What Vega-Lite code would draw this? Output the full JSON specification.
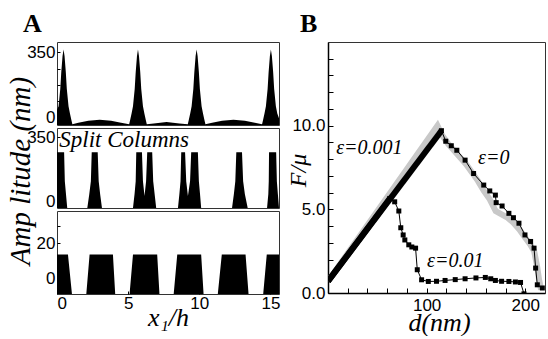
{
  "$schema": "https://vega.github.io/schema/vega-lite/v6.json",
  "background": "white",
  "padding": {"left": 5, "top": 10, "right": 0, "bottom": 0},
  "spacing": 4,
  "datasets": {
    "top": [
      {"x":0,"y":40},{"x":0.11,"y":60},{"x":0.23,"y":152},{"x":0.30,"y":242},{"x":0.39,"y":330},{"x":0.46,"y":365},{"x":0.53,"y":330},{"x":0.62,"y":242},{"x":0.69,"y":152},{"x":0.81,"y":60},{"x":0.91,"y":20},{"x":1.01,"y":-15},{"x":1.08,"y":-37},
      {"x":1.5,"y":-30},{"x":2.2,"y":-18},{"x":3.0,"y":-13},{"x":3.8,"y":-18},{"x":4.5,"y":-30},
      {"x":5.07,"y":-37},{"x":5.14,"y":-15},{"x":5.24,"y":20},{"x":5.34,"y":60},{"x":5.46,"y":152},{"x":5.53,"y":242},{"x":5.62,"y":330},{"x":5.69,"y":365},{"x":5.76,"y":330},{"x":5.85,"y":242},{"x":5.92,"y":152},{"x":6.04,"y":60},{"x":6.14,"y":20},{"x":6.24,"y":-15},{"x":6.31,"y":-37},
      {"x":6.8,"y":-33},{"x":7.7,"y":-25},{"x":8.6,"y":-33},
      {"x":9.19,"y":-37},{"x":9.26,"y":-15},{"x":9.36,"y":20},{"x":9.46,"y":60},{"x":9.58,"y":152},{"x":9.65,"y":242},{"x":9.74,"y":330},{"x":9.81,"y":365},{"x":9.88,"y":330},{"x":9.97,"y":242},{"x":10.04,"y":152},{"x":10.16,"y":60},{"x":10.26,"y":20},{"x":10.36,"y":-15},{"x":10.43,"y":-37},
      {"x":10.9,"y":-30},{"x":11.6,"y":-18},{"x":12.4,"y":-13},{"x":13.2,"y":-18},{"x":13.9,"y":-30},
      {"x":14.41,"y":-37},{"x":14.48,"y":-15},{"x":14.58,"y":20},{"x":14.68,"y":60},{"x":14.80,"y":152},{"x":14.87,"y":242},{"x":14.96,"y":330},{"x":15.03,"y":365},{"x":15.10,"y":330},{"x":15.19,"y":242},{"x":15.26,"y":152},{"x":15.38,"y":60},{"x":15.48,"y":20},{"x":15.6,"y":-5}
    ],
    "split": [
      {"x":0,"y":268},{"x":0.5,"y":268},{"x":0.55,"y":110},{"x":0.63,"y":40},{"x":0.72,"y":-36},
      {"x":2.13,"y":-36},{"x":2.27,"y":40},{"x":2.38,"y":110},{"x":2.44,"y":268},{"x":2.86,"y":268},{"x":2.93,"y":110},{"x":3.03,"y":40},{"x":3.16,"y":-36},
      {"x":5.34,"y":-36},{"x":5.45,"y":40},{"x":5.53,"y":110},{"x":5.57,"y":268},{"x":5.97,"y":268},{"x":6.04,"y":110},{"x":6.15,"y":30},{"x":6.26,"y":110},{"x":6.34,"y":268},{"x":6.69,"y":268},{"x":6.76,"y":110},{"x":6.86,"y":40},{"x":6.97,"y":-36},
      {"x":8.5,"y":-36},{"x":8.6,"y":40},{"x":8.68,"y":110},{"x":8.73,"y":268},{"x":9.0,"y":268},{"x":9.08,"y":110},{"x":9.2,"y":30},{"x":9.35,"y":110},{"x":9.43,"y":268},{"x":9.9,"y":268},{"x":9.97,"y":110},{"x":10.05,"y":40},{"x":10.13,"y":-36},
      {"x":12.3,"y":-36},{"x":12.43,"y":40},{"x":12.53,"y":110},{"x":12.6,"y":268},{"x":13.0,"y":268},{"x":13.08,"y":110},{"x":13.2,"y":40},{"x":13.4,"y":-36},
      {"x":14.76,"y":-36},{"x":14.85,"y":40},{"x":14.88,"y":110},{"x":14.9,"y":268},{"x":15.4,"y":268},{"x":15.45,"y":110},{"x":15.52,"y":40},{"x":15.6,"y":-36}
    ],
    "flat": [
      {"x":0,"y":13.5},{"x":0.77,"y":13.5},{"x":1.05,"y":-9.2},
      {"x":2.06,"y":-9.2},{"x":2.29,"y":13.5},{"x":3.93,"y":13.5},{"x":4.09,"y":-9.2},
      {"x":5.1,"y":-9.2},{"x":5.34,"y":13.5},{"x":7.04,"y":13.5},{"x":7.2,"y":-9.2},
      {"x":8.2,"y":-9.2},{"x":8.45,"y":13.5},{"x":10.13,"y":13.5},{"x":10.3,"y":-9.2},
      {"x":11.3,"y":-9.2},{"x":11.58,"y":13.5},{"x":13.25,"y":13.5},{"x":13.46,"y":-9.2},
      {"x":14.49,"y":-9.2},{"x":14.74,"y":13.5},{"x":15.6,"y":13.5}
    ],
    "force": [
      {"s":"e0","part":"g","d":0,"F":0.7},{"s":"e0","part":"g","d":111,"F":10.0},{"s":"e0","part":"g","d":116,"F":9.4},{"s":"e0","part":"g","d":122,"F":8.9},{"s":"e0","part":"g","d":128,"F":8.5},{"s":"e0","part":"g","d":134,"F":8.1},{"s":"e0","part":"g","d":140,"F":7.7},{"s":"e0","part":"g","d":146,"F":7.2},{"s":"e0","part":"g","d":152,"F":6.7},{"s":"e0","part":"g","d":158,"F":6.1},{"s":"e0","part":"g","d":164,"F":5.6},{"s":"e0","part":"g","d":170,"F":4.9},{"s":"e0","part":"g","d":176,"F":4.7},{"s":"e0","part":"g","d":182,"F":4.5},{"s":"e0","part":"g","d":188,"F":4.2},{"s":"e0","part":"g","d":194,"F":3.8},{"s":"e0","part":"g","d":200,"F":3.3},{"s":"e0","part":"g","d":205,"F":2.9},{"s":"e0","part":"g","d":209,"F":2.5},{"s":"e0","part":"g","d":212,"F":1.6},{"s":"e0","part":"g","d":214,"F":0.8},{"s":"e0","part":"g","d":216,"F":0.2},
      {"s":"e001","part":"rise","d":0,"F":0.7},{"s":"e001","part":"rise","d":115,"F":9.7},
      {"s":"e001","part":"fall","d":115,"F":9.7},{"s":"e001","part":"fall","d":119.4,"F":9.07},{"s":"e001","part":"fall","d":125,"F":8.8},{"s":"e001","part":"fall","d":130.6,"F":8.53},{"s":"e001","part":"fall","d":139,"F":7.94},{"s":"e001","part":"fall","d":147.6,"F":7.14},{"s":"e001","part":"fall","d":157.9,"F":6.45},{"s":"e001","part":"fall","d":164,"F":6.1},{"s":"e001","part":"fall","d":169.7,"F":5.85},{"s":"e001","part":"fall","d":170.5,"F":5.4},{"s":"e001","part":"fall","d":176.5,"F":5.2},{"s":"e001","part":"fall","d":183.4,"F":4.76},{"s":"e001","part":"fall","d":188,"F":4.5},{"s":"e001","part":"fall","d":193.6,"F":4.17},{"s":"e001","part":"fall","d":199.7,"F":3.47},{"s":"e001","part":"fall","d":205.4,"F":3.08},{"s":"e001","part":"fall","d":208.9,"F":2.68},{"s":"e001","part":"fall","d":210.5,"F":1.49},{"s":"e001","part":"fall","d":212.2,"F":0.49},{"s":"e001","part":"fall","d":217.3,"F":0.3},
      {"s":"e01","part":"rise","d":0,"F":0.7},{"s":"e01","part":"rise","d":62.6,"F":5.65},
      {"s":"e01","part":"fall","d":62.6,"F":5.65},{"s":"e01","part":"fall","d":67.6,"F":5.45},{"s":"e01","part":"fall","d":71.8,"F":4.9},{"s":"e01","part":"fall","d":73.8,"F":3.9},{"s":"e01","part":"fall","d":76.2,"F":3.47},{"s":"e01","part":"fall","d":77.9,"F":3.17},{"s":"e01","part":"fall","d":81.9,"F":2.88},{"s":"e01","part":"fall","d":85,"F":2.75},{"s":"e01","part":"fall","d":88.8,"F":2.68},{"s":"e01","part":"fall","d":90.5,"F":1.39},{"s":"e01","part":"fall","d":94.9,"F":0.79},{"s":"e01","part":"fall","d":101.7,"F":0.69},{"s":"e01","part":"fall","d":110,"F":0.7},{"s":"e01","part":"fall","d":118.7,"F":0.75},{"s":"e01","part":"fall","d":129,"F":0.8},{"s":"e01","part":"fall","d":139,"F":0.85},{"s":"e01","part":"fall","d":150,"F":0.9},{"s":"e01","part":"fall","d":159.5,"F":0.93},{"s":"e01","part":"fall","d":165,"F":0.85},{"s":"e01","part":"fall","d":169.7,"F":0.75},{"s":"e01","part":"fall","d":176,"F":0.7},{"s":"e01","part":"fall","d":183.4,"F":0.69},{"s":"e01","part":"fall","d":190,"F":0.66},{"s":"e01","part":"fall","d":195.2,"F":0.63},{"s":"e01","part":"fall","d":198.7,"F":-0.05}
    ],
    "notes": [
      {"d":42,"F":8.67,"t":"ε=0.001"},
      {"d":168,"F":8.07,"t":"ε=0"},
      {"d":129,"F":1.93,"t":"ε=0.01"}
    ]
  },
  "hconcat": [
    {
      "title": {"text": "A", "anchor": "start", "frame": "group", "dx": -34, "offset": -16, "baseline": "alphabetic", "font": "Liberation Serif", "fontSize": 26, "fontWeight": "bold", "color": "black"},
      "bounds": "flush",
      "spacing": 3,
      "vconcat": [
        {
          "width": 222, "height": 83,
          "data": {"name": "top"},
          "mark": {"type": "area", "color": "black", "clip": true},
          "encoding": {
            "x": {"field": "x", "type": "quantitative", "scale": {"domain": [0, 15.6], "nice": false, "zero": false}, "axis": null},
            "y": {"field": "y", "type": "quantitative", "scale": {"domain": [-41.5, 405.5], "nice": false, "zero": false},
                  "axis": {"values": [0, 87.5, 175, 262.5, 350], "labelExpr": "datum.value == 0 || datum.value == 350 ? format(datum.value, 'd') : ''", "title": null, "tickSize": -3, "labelPadding": 5}},
            "y2": {"datum": -41.5}
          }
        },
        {
          "width": 222, "height": 80,
          "layer": [
            {
              "data": {"name": "split"},
              "mark": {"type": "area", "color": "black", "clip": true},
              "encoding": {
                "x": {"field": "x", "type": "quantitative", "scale": {"domain": [0, 15.6], "nice": false, "zero": false}, "axis": null},
                "y": {"field": "y", "type": "quantitative", "scale": {"domain": [-36, 401], "nice": false, "zero": false},
                      "axis": {"values": [0, 87.5, 175, 262.5, 350], "labelExpr": "datum.value == 0 || datum.value == 350 ? format(datum.value, 'd') : ''", "tickSize": -3, "labelPadding": 5,
                               "title": "Amp litude (nm)", "titleFont": "Liberation Serif", "titleFontStyle": "italic", "titleFontWeight": "normal", "titleFontSize": 29, "titleAngle": 270, "titleX": -28, "titleY": 42.5, "titleAlign": "center", "titleBaseline": "alphabetic"}},
                "y2": {"datum": -36}
              }
            },
            {
              "data": {"values": [{"x": 0.16, "y": 335, "t": "Split Columns"}]},
              "mark": {"type": "text", "align": "left", "baseline": "middle", "font": "Liberation Serif", "fontStyle": "italic", "fontSize": 23, "color": "black"},
              "encoding": {
                "x": {"field": "x", "type": "quantitative"},
                "y": {"field": "y", "type": "quantitative"},
                "text": {"field": "t"}
              }
            }
          ]
        },
        {
          "width": 222, "height": 83,
          "data": {"name": "flat"},
          "mark": {"type": "area", "color": "black", "clip": true},
          "encoding": {
            "x": {"field": "x", "type": "quantitative", "scale": {"domain": [0, 15.6], "nice": false, "zero": false},
                  "axis": {"values": [0, 5, 10, 15], "tickSize": -3, "labelPadding": 4, "title": "x₁/h", "titleFont": "Liberation Serif", "titleFontStyle": "italic", "titleFontWeight": "normal", "titleFontSize": 26, "titleX": 111, "titleY": 31, "titleAlign": "center", "titleBaseline": "alphabetic"}},
            "y": {"field": "y", "type": "quantitative", "scale": {"domain": [-9.2, 38.6], "nice": false, "zero": false},
                  "axis": {"values": [0, 10, 20, 30], "labelExpr": "datum.value == 0 || datum.value == 20 ? datum.label : ''", "title": null, "tickSize": -3, "labelPadding": 5}},
            "y2": {"datum": -9.2}
          }
        }
      ]
    },
    {
      "width": 217, "height": 251,
      "title": {"text": "B", "anchor": "start", "frame": "group", "dx": -28, "offset": -16, "baseline": "alphabetic", "font": "Liberation Serif", "fontSize": 26, "fontWeight": "bold", "color": "black"},
      "data": {"name": "force"},
      "encoding": {
        "x": {"field": "d", "type": "quantitative", "scale": {"domain": [0, 220], "nice": false, "zero": false},
              "axis": {"values": [20, 40, 60, 80, 100, 120, 140, 160, 180, 200], "labelExpr": "datum.value == 100 || datum.value == 200 ? datum.label : ''", "tickSize": -5, "labelPadding": 9, "domain": true, "domainColor": "black", "domainWidth": 1.5,
                       "title": "d(nm)", "titleFont": "Liberation Serif", "titleFontStyle": "italic", "titleFontWeight": "normal", "titleFontSize": 26, "titleX": 111, "titleY": 37, "titleAlign": "center", "titleBaseline": "alphabetic"}},
        "y": {"field": "F", "type": "quantitative", "scale": {"domain": [0, 15], "nice": false, "zero": false},
              "axis": {"values": [0,1,2,3,4,5,6,7,8,9,10,11,12,13,14], "labelExpr": "datum.value == 0 || datum.value == 5 || datum.value == 10 ? format(datum.value, '.1f') : ''", "tickSize": -5, "labelPadding": 8, "domain": true, "domainColor": "black", "domainWidth": 1.5,
                       "title": "F/μ", "titleFont": "Liberation Serif", "titleFontStyle": "italic", "titleFontWeight": "normal", "titleFontSize": 24, "titleAngle": 270, "titleX": -23, "titleY": 128, "titleAlign": "center", "titleBaseline": "alphabetic"}}
      },
      "layer": [
        {
          "transform": [{"filter": "datum.s == 'e0'"}],
          "mark": {"type": "line", "color": "#c8c8c8", "strokeWidth": 6, "clip": true}
        },
        {
          "transform": [{"filter": "datum.part == 'rise'"}],
          "mark": {"type": "line", "color": "black", "strokeWidth": 6, "clip": true},
          "encoding": {"detail": {"field": "s"}}
        },
        {
          "transform": [{"filter": "datum.part == 'fall'"}],
          "mark": {"type": "line", "color": "black", "strokeWidth": 1, "clip": true},
          "encoding": {"detail": {"field": "s"}}
        },
        {
          "transform": [{"filter": "datum.part == 'fall'"}],
          "mark": {"type": "point", "shape": "square", "filled": true, "color": "black", "size": 25, "opacity": 1, "clip": true}
        },
        {
          "data": {"name": "notes"},
          "mark": {"type": "text", "align": "center", "baseline": "middle", "font": "Liberation Serif", "fontStyle": "italic", "fontSize": 20, "color": "black"},
          "encoding": {"text": {"field": "t"}}
        }
      ]
    }
  ],
  "config": {
    "view": {"stroke": "#333", "strokeWidth": 1},
    "axis": {"grid": false, "domain": false, "labelFont": "Liberation Sans", "labelFontSize": 17, "labelColor": "black", "tickColor": "black", "tickWidth": 1, "titleColor": "black", "labelOverlap": false}
  }
}
